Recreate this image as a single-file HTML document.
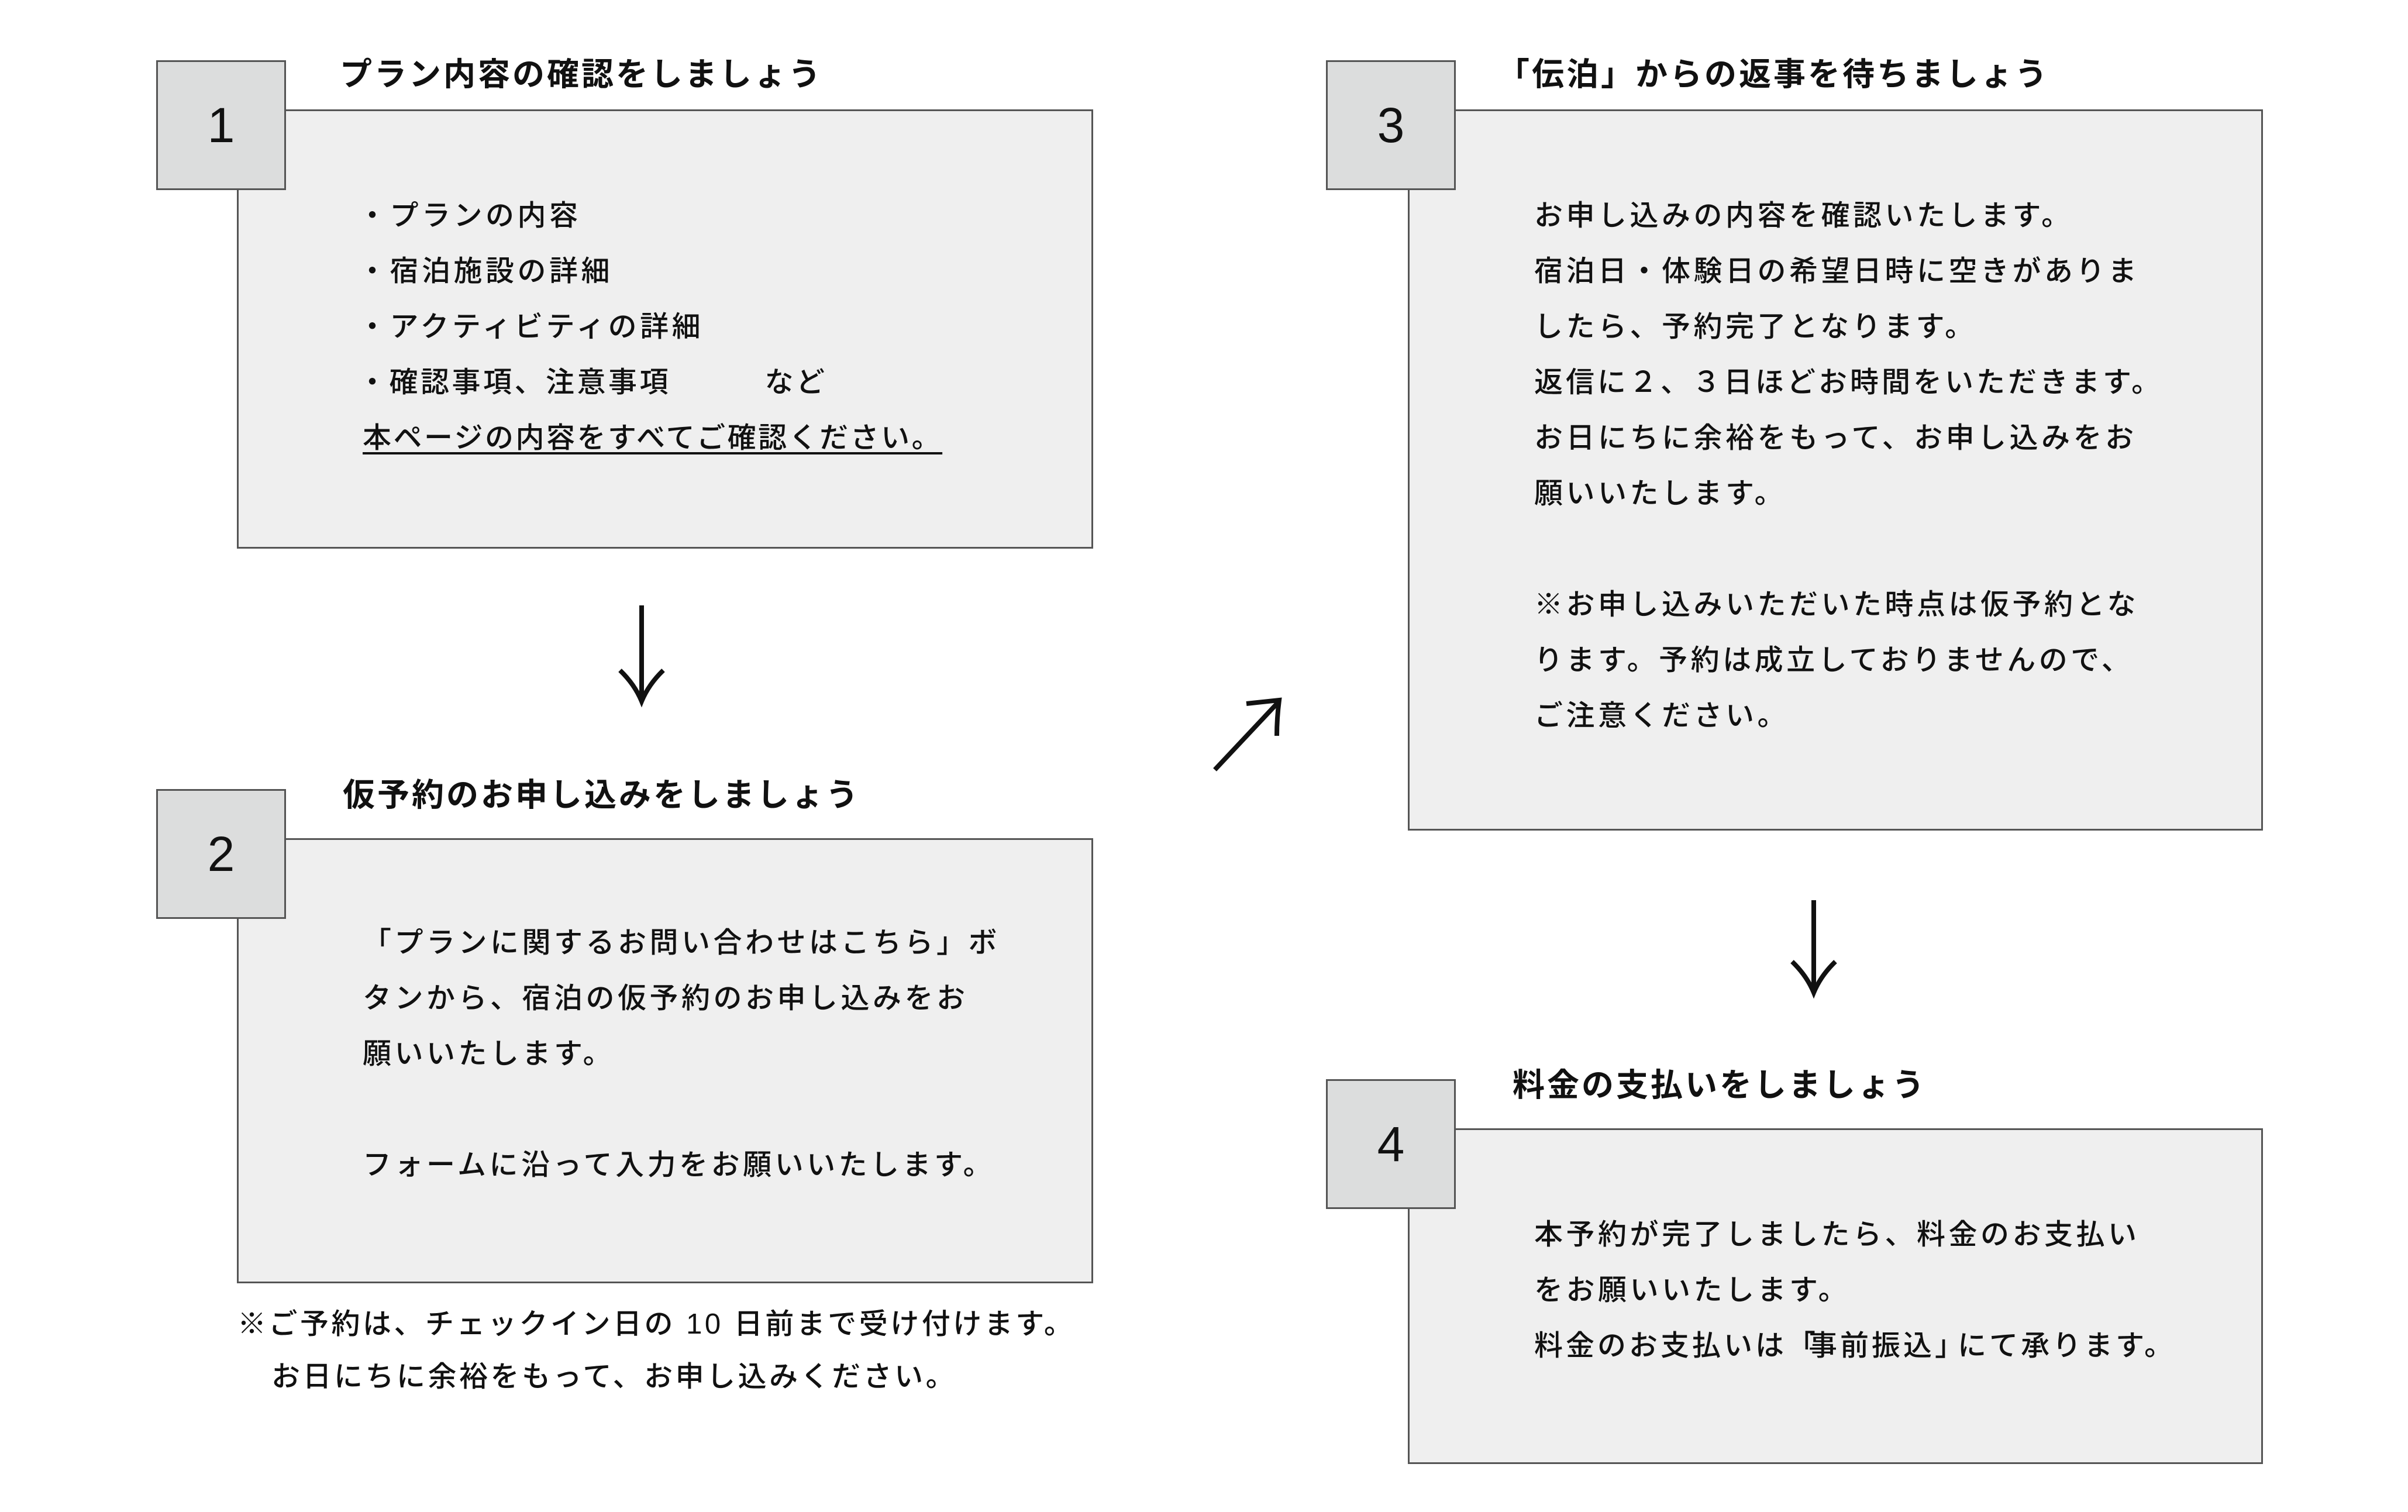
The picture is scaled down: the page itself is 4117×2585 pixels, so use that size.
<!DOCTYPE html>
<html><head><meta charset="utf-8"><style>
body{margin:0;width:4117px;height:2585px;background:#fff;position:relative;overflow:hidden;font-family:"Liberation Sans","Noto Sans CJK JP",sans-serif;color:#111}
.box{position:absolute;background:#efefef;border:3px solid #555;box-sizing:border-box}
.num{position:absolute;background:#dcdddd;border:3px solid #555;box-sizing:border-box;width:222px;height:222px;font-size:84px;font-weight:500;display:flex;align-items:center;justify-content:center}
.t{position:absolute;font-size:55px;font-weight:bold;line-height:70px;white-space:nowrap;letter-spacing:4px}
.l{position:absolute;font-size:49px;font-weight:500;line-height:70px;white-space:nowrap;letter-spacing:5.5px}
</style></head><body>
<div class="box" style="left:405px;top:187px;width:1464px;height:751px"></div>
<div class="num" style="left:267px;top:103px">1</div>
<div class="t" style="left:581px;top:92px">プラン内容の確認をしましょう</div>
<div class="l" style="left:612px;top:334px">・プランの内容</div>
<div class="l" style="left:612px;top:429px">・宿泊施設の詳細</div>
<div class="l" style="left:612px;top:524px">・アクティビティの詳細</div>
<div class="l" style="left:612px;top:619px;letter-spacing:4.5px">・確認事項、注意事項　　　など</div>
<div class="l" style="left:620px;top:714px;letter-spacing:3.5px;text-decoration:underline;text-underline-offset:8px">本ページの内容をすべてご確認ください。</div>

<div class="box" style="left:405px;top:1433px;width:1464px;height:761px"></div>
<div class="num" style="left:267px;top:1349px">2</div>
<div class="t" style="left:586px;top:1324px">仮予約のお申し込みをしましょう</div>
<div class="l" style="left:620px;top:1577px">「プランに関するお問い合わせはこちら」ボ</div>
<div class="l" style="left:620px;top:1672px">タンから、宿泊の仮予約のお申し込みをお</div>
<div class="l" style="left:620px;top:1767px">願いいたします。</div>
<div class="l" style="left:620px;top:1957px">フォームに沿って入力をお願いいたします。</div>
<div class="l" style="left:406px;top:2229px;letter-spacing:4.5px">※ご予約は、チェックイン日の 10 日前まで受け付けます。</div>
<div class="l" style="left:464px;top:2319px;letter-spacing:4.5px">お日にちに余裕をもって、お申し込みください。</div>

<div class="box" style="left:2407px;top:187px;width:1462px;height:1233px"></div>
<div class="num" style="left:2267px;top:103px">3</div>
<div class="t" style="left:2560px;top:92px">「伝泊」からの返事を待ちましょう</div>
<div class="l" style="left:2623px;top:334px">お申し込みの内容を確認いたします。</div>
<div class="l" style="left:2623px;top:429px">宿泊日・体験日の希望日時に空きがありま</div>
<div class="l" style="left:2623px;top:524px">したら、予約完了となります。</div>
<div class="l" style="left:2623px;top:619px;letter-spacing:5px">返信に２、３日ほどお時間をいただきます。</div>
<div class="l" style="left:2623px;top:714px">お日にちに余裕をもって、お申し込みをお</div>
<div class="l" style="left:2623px;top:809px">願いいたします。</div>
<div class="l" style="left:2623px;top:999px">※お申し込みいただいた時点は仮予約とな</div>
<div class="l" style="left:2623px;top:1094px">ります。予約は成立しておりませんので、</div>
<div class="l" style="left:2623px;top:1189px">ご注意ください。</div>

<div class="box" style="left:2407px;top:1929px;width:1462px;height:574px"></div>
<div class="num" style="left:2267px;top:1845px">4</div>
<div class="t" style="left:2586px;top:1820px">料金の支払いをしましょう</div>
<div class="l" style="left:2623px;top:2076px">本予約が完了しましたら、料金のお支払い</div>
<div class="l" style="left:2623px;top:2171px">をお願いいたします。</div>
<div class="l" style="left:2623px;top:2266px;letter-spacing:5px">料金のお支払いは<span style="letter-spacing:-12px">「</span>事前振込<span style="letter-spacing:-10px">」</span>にて承ります。</div>

<svg width="4117" height="2585" style="position:absolute;left:0;top:0" fill="none" stroke="#111" stroke-width="8">
<path d="M1097 1035 V1196 M1060 1146 Q1085 1170 1097 1199 Q1109 1170 1134 1146"/>
<path d="M3101 1539 V1694 M3064 1644 Q3089 1668 3101 1697 Q3113 1668 3138 1644"/>
<path d="M2077 1316 L2186 1200 M2131 1203 Q2160 1200 2187 1197 Q2183 1228 2183 1258"/>
</svg>
</body></html>
